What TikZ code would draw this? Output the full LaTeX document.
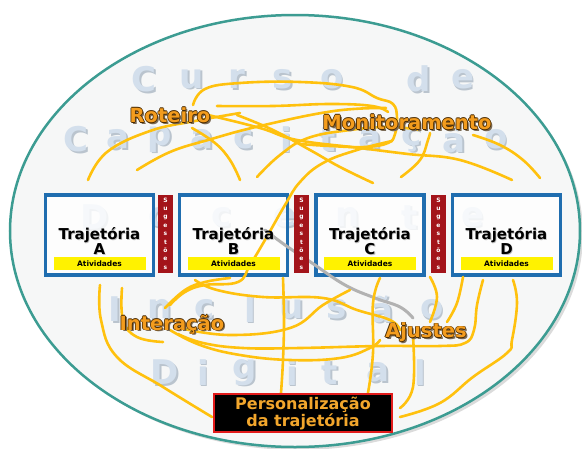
\documentclass[tikz,border=0pt]{standalone}
\usepackage{fontspec}
\setmainfont{DejaVu Sans}
\definecolor{ellc}{HTML}{3C9C92}
\definecolor{ellfill}{HTML}{F6F7F7}
\definecolor{wmc}{HTML}{D3DFEC}
\definecolor{wmsh}{HTML}{BAC4CE}
\definecolor{boxblue}{HTML}{1F6DAF}
\definecolor{barred}{HTML}{A3141A}
\definecolor{atvy}{HTML}{FFF200}
\definecolor{squig}{HTML}{FFC10E}
\definecolor{laborange}{HTML}{F39C1E}
\definecolor{labedge}{HTML}{4A2A00}
\definecolor{labsh}{HTML}{7A6A55}
\definecolor{perstext}{HTML}{F2A62C}
\definecolor{persred}{HTML}{E21B1B}
\newcommand\olab[1]{\leavevmode\rlap{\color{labsh}\hspace{1.8pt}\raisebox{-1.8pt}{#1}}\rlap{\color{labedge}\hspace{0.8pt}#1}\rlap{\color{labedge}\hspace{-0.8pt}#1}\rlap{\color{labedge}\raisebox{0.8pt}{#1}}\rlap{\color{labedge}\raisebox{-0.8pt}{#1}}#1}
\newcommand\wml[1]{\leavevmode\rlap{\color{wmsh}\hspace{1.5pt}\raisebox{-1.5pt}{#1}}#1}
\newcommand\tsh[1]{\leavevmode\rlap{\color{black!25}\hspace{0.8pt}\raisebox{-0.8pt}{#1}}#1}
\begin{document}
\begin{tikzpicture}[x=1pt,y=-1pt,
  wm/.style={text=wmc,font=\fontsize{34}{34}\selectfont\bfseries,inner sep=0},
  tbox/.style={draw=boxblue,line width=3.5pt,fill=white,fill opacity=0.8,minimum width=108pt,minimum height=80pt,inner sep=0},
  ttext/.style={align=center,font=\fontsize{15}{15.5}\selectfont\bfseries,inner sep=0},
  atv/.style={fill=atvy,minimum width=92pt,minimum height=13pt,inner sep=0,font=\fontsize{7.5}{8}\selectfont\bfseries},
  bar/.style={fill=barred,minimum width=15pt,minimum height=78pt,inner sep=0,text=white,align=center,font=\fontsize{6}{8.4}\selectfont\bfseries},
  pers/.style={fill=black,draw=persred,line width=1.8pt,minimum width=178pt,minimum height=38pt,inner sep=0,text=perstext,align=center,font=\fontsize{16}{17}\selectfont\bfseries},
  lab/.style={text=laborange,inner sep=0,font=\fontsize{19.5}{20}\selectfont\bfseries},
  sq/.style={draw=squig,line width=2.6pt,line cap=round,line join=round},
  gq/.style={draw=gray!60,line width=3pt,line cap=round}]
\useasboundingbox (0,0) rectangle (582,448);
\fill[white] (0,0) rectangle (582,448);
% ellipse with shadow
\fill[gray!28] (298,234) ellipse [x radius=285pt, y radius=216pt];
\draw[draw=ellc,line width=2.5pt,fill=ellfill] (295,231) ellipse [x radius=285pt, y radius=216pt];
% watermark
\foreach \c/\x [count=\i] in {C/144,u/192,r/237,s/283,o/332,d/419,e/463}
  \node[wm] (wa\i) at (\x,80) {\wml{\c}};
\foreach \c/\x [count=\i] in {C/76,a/118,p/160,a/202,c/244,i/286,t/328,a/370,ç/412,ã/454,o/496}
  \node[wm] (wb\i) at (\x,140) {\wml{\c}};
\foreach \c/\x [count=\i] in {D/95,o/160,c/222,e/285,n/348,t/410,e/473}
  \node[wm] (wc\i) at (\x,218) {\wml{\c}};
\foreach \c/\x [count=\i] in {I/115,n/160,c/205,l/250,u/292,s/337,ã/382,o/432}
  \node[wm] (wd\i) at (\x,310) {\wml{\c}};
\foreach \c/\x [count=\i] in {D/165,i/203,g/245,i/292,t/330,a/378,l/420}
  \node[wm] (we\i) at (\x,373) {\wml{\c}};
% boxes
\node[tbox] (boxA) at (99.5,235) {};
\node[tbox] (boxB) at (233.5,235) {};
\node[tbox] (boxC) at (370,235) {};
\node[tbox] (boxD) at (506.5,235) {};
% gray curve
\draw[gq] plot[smooth,tension=0.7] coordinates {(265,230) (285,245) (312,263) (345,285) (375,298) (400,307) (413,318)};
% yellow squiggles - top
\draw[sq] plot[smooth,tension=0.7] coordinates {(88,180) (107,152) (150,131) (195,121) (240,113)};
\draw[sq] plot[smooth,tension=0.7] coordinates {(217,106) (273,106) (330,104) (372,106) (388,112)};
\draw[sq] plot[smooth,tension=0.7] coordinates {(193,105) (205,89) (240,83) (300,82) (352,87) (377,98) (393,104) (397,118) (395,134) (388,143) (365,147) (330,146) (300,144)};
\draw[sq] plot[smooth,tension=0.7] coordinates {(137,170) (170,152) (208,140) (260,126) (334,111) (386,108)};
\draw[sq] plot[smooth,tension=0.7] coordinates {(192,128) (215,143) (230,160) (240,180)};
\draw[sq] plot[smooth,tension=0.7] coordinates {(237,115) (273,130) (310,150) (340,167) (373,183)};
\draw[sq] plot[smooth,tension=0.7] coordinates {(208,115) (260,128) (297,140) (360,148) (408,154) (460,160) (512,180)};
\draw[sq] plot[smooth,tension=0.7] coordinates {(257,177) (280,155) (308,138) (350,130) (390,127) (420,130)};
\draw[sq] plot[smooth,tension=0.7] coordinates {(401,177) (420,160) (428,140) (430,133)};
\draw[sq] plot[smooth,tension=0.7] coordinates {(473,135) (500,145) (523,160) (540,178)};
\draw[sq] plot[smooth,tension=0.7] coordinates {(392,141) (357,150) (323,163) (300,182) (285,205) (265,240) (250,265) (238,282) (205,285) (185,292) (170,305)};
% yellow squiggles - bottom
\draw[sq] plot[smooth,tension=0.7] coordinates {(100,285) (101,320) (117,357) (163,387) (212,417)};
\draw[sq] plot[smooth,tension=0.7] coordinates {(122,288) (123,320) (137,337) (163,342)};
\draw[sq] plot[smooth,tension=0.7] coordinates {(283,278) (284,320) (283,360) (281,393)};
\draw[sq] plot[smooth,tension=0.7] coordinates {(380,278) (373,303) (373,353) (368,393)};
\draw[sq] plot[smooth,tension=0.7] coordinates {(430,277) (437,297) (430,322)};
\draw[sq] plot[smooth,tension=0.7] coordinates {(463,277) (457,303) (447,322)};
\draw[sq] plot[smooth,tension=0.7] coordinates {(483,280) (477,305) (474,330) (465,343) (440,346) (380,346) (300,348) (243,348) (203,343) (178,334)};
\draw[sq] plot[smooth,tension=0.7] coordinates {(513,280) (517,303) (512,340) (507,353) (473,377) (440,403) (400,417)};
\draw[sq] plot[smooth,tension=0.7] coordinates {(413,336) (413,387) (400,408)};
\draw[sq] plot[smooth,tension=0.7] coordinates {(170,330) (200,345) (240,355) (290,360) (340,358) (370,348) (380,340)};
\draw[sq] plot[smooth,tension=0.7] coordinates {(195,280) (217,290) (263,297) (323,298) (357,310) (390,320) (400,330)};
\draw[sq] plot[smooth,tension=0.7] coordinates {(180,328) (230,335) (290,328) (323,305) (350,290)};
\draw[sq] plot[smooth,tension=0.7] coordinates {(165,308) (185,290) (205,282) (230,278)};
% box contents
\node[ttext] (tA) at (99.5,241.5) {\tsh{Trajetória}\\\tsh{A}};
\node[ttext] (tB) at (233.5,241.5) {\tsh{Trajetória}\\\tsh{B}};
\node[ttext] (tC) at (370,241.5) {\tsh{Trajetória}\\\tsh{C}};
\node[ttext] (tD) at (506.5,241.5) {\tsh{Trajetória}\\\tsh{D}};
\node[atv] (aA) at (99.5,263.5) {Atividades};
\node[atv] (aB) at (233.5,263.5) {Atividades};
\node[atv] (aC) at (370,263.5) {Atividades};
\node[atv] (aD) at (506.5,263.5) {Atividades};
% suggestion bars
\node[bar] (s1) at (165.5,233.5) {S\\u\\g\\e\\s\\t\\õ\\e\\s};
\node[bar] (s2) at (301.5,233.5) {S\\u\\g\\e\\s\\t\\õ\\e\\s};
\node[bar] (s3) at (438.5,233.5) {S\\u\\g\\e\\s\\t\\õ\\e\\s};
% labels
\node[lab] (rot) at (170,116) {\olab{Roteiro}};
\node[lab] (mon) at (407,123) {\olab{Monitoramento}};
\node[lab] (int) at (172,325) {\olab{Interação}};
\node[lab] (aju) at (426,333) {\olab{Ajustes}};
% personalization
\node[pers] (pers) at (303,413) {Personalização\\da trajetória};
\end{tikzpicture}
\end{document}
